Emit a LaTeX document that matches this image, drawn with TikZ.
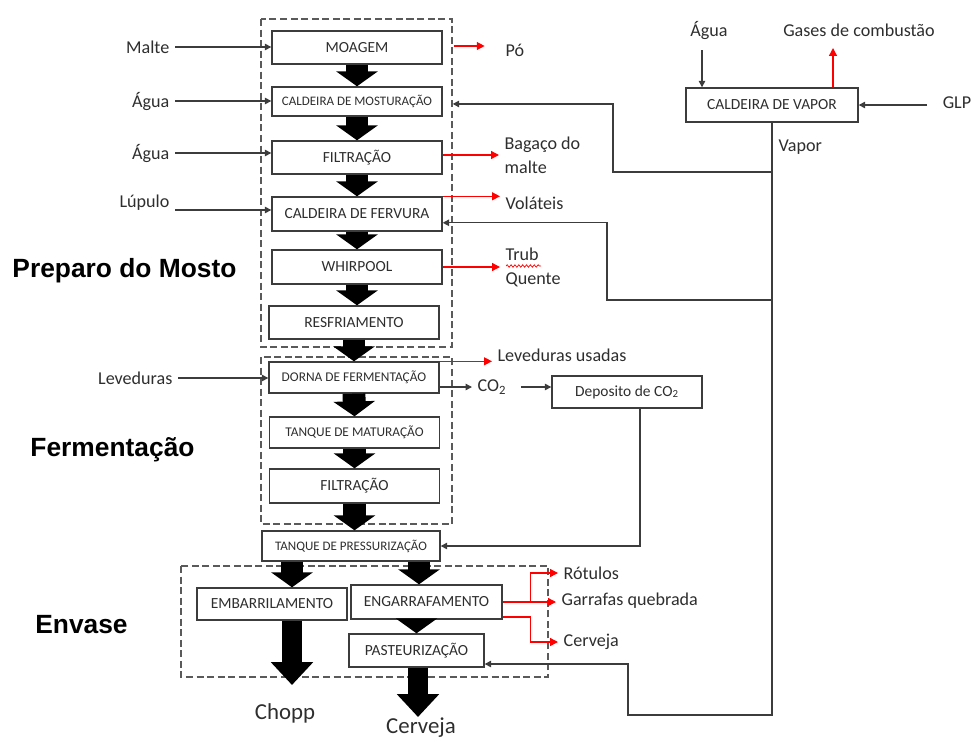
\documentclass[tikz,border=0pt]{standalone}
\usepackage{fontspec}
\setmainfont{Carlito}
\setsansfont{Liberation Sans}
\usetikzlibrary{arrows.meta,decorations.pathmorphing}

\definecolor{linegray}{HTML}{3C3C3C}
\definecolor{dashgray}{HTML}{5A5A5A}
\definecolor{txtgray}{HTML}{2E2E2E}

\tikzset{
  proc/.style={draw=linegray, line width=0.8pt, minimum width=3.4cm, minimum height=0.66cm,
    inner sep=1pt, text=txtgray, font=\fontsize{8.8}{10}\selectfont},
  smallproc/.style={proc, font=\fontsize{7.6}{9}\selectfont},
  lbl/.style={inner sep=3pt, text=txtgray, font=\fontsize{10.3}{13.7}\selectfont},
  feed/.style={draw=linegray, line width=0.75pt, -{Triangle[length=3.6pt,width=3.6pt]}},
  waste/.style={draw=red, line width=0.75pt, -{Triangle[length=4.5pt,width=4.5pt]}},
  fatarrow/.style={line width=13pt, -{Triangle[length=8.5pt,width=23.3pt]}},
  longarrow/.style={line width=11.4pt, -{Triangle[length=13pt,width=23.3pt]}},
  stage/.style={draw=dashgray, line width=1pt, dash pattern=on 4pt off 2pt},
  stagetitle/.style={font=\sffamily\bfseries\fontsize{15}{18}\selectfont}
}

\begin{document}
\begin{tikzpicture}[x=0.02cm, y=-0.02cm]
  \useasboundingbox (0,0) rectangle (974,738);

  % dashed stage frames
  \draw[stage] (261,19) rectangle (452,347);
  \draw[stage] (261,357) rectangle (452,524);
  \draw[stage] (181,566) rectangle (548,677);

  % stage titles
  \node[stagetitle] (preparo) at (124.5,271) {Preparo do Mosto};
  \node[stagetitle] (ferment) at (112.5,450) {Fermentação};
  \node[stagetitle] (envase) at (81.5,625) {Envase};

  % process boxes
  \node[proc] (moagem) at (357,47.5) {MOAGEM};
  \node[smallproc, font=\fontsize{7.4}{9}\selectfont, minimum height=0.58cm] (mostur) at (357,101.5) {CALDEIRA DE MOSTURAÇÃO};
  \node[proc] (filtr1) at (357,157.5) {FILTRAÇÃO};
  \node[proc, minimum height=0.68cm] (fervura) at (357,214) {CALDEIRA DE FERVURA};
  \node[proc, minimum height=0.68cm] (whirpool) at (357,267) {WHIRPOOL};
  \node[proc] (resfr) at (354,322.5) {RESFRIAMENTO};
  \node[smallproc, minimum height=0.62cm] (dorna) at (354,377.5) {DORNA DE FERMENTAÇÃO};
  \node[smallproc, minimum height=0.62cm] (matur) at (354.5,432.5) {TANQUE DE MATURAÇÃO};
  \node[proc, minimum height=0.68cm] (filtr2) at (354.5,486) {FILTRAÇÃO};
  \node[smallproc, font=\fontsize{7.4}{9}\selectfont, minimum width=3.56cm, minimum height=0.6cm] (pressur) at (351,546) {TANQUE DE PRESSURIZAÇÃO};
  \node[proc, minimum width=3.0cm, minimum height=0.64cm] (embarr) at (272,604) {EMBARRILAMENTO};
  \node[proc, minimum width=3.02cm, minimum height=0.68cm] (engarr) at (426.5,602) {ENGARRAFAMENTO};
  \node[proc, minimum width=2.7cm] (pasteur) at (416.5,650.5) {PASTEURIZAÇÃO};
  \node[proc, minimum width=3.44cm, minimum height=0.68cm] (cvapor) at (772,105) {CALDEIRA DE VAPOR};
  \node[proc, minimum width=3.0cm, minimum height=0.64cm] (deposito) at (627,392) {Deposito de CO\textsubscript{2}};

  % main flow
  \draw[fatarrow] (moagem.south) -- (mostur.north);
  \draw[fatarrow] (mostur.south) -- (filtr1.north);
  \draw[fatarrow] (filtr1.south) -- (fervura.north);
  \draw[fatarrow] (fervura.south) -- (whirpool.north);
  \draw[fatarrow] (whirpool.south) -- (whirpool.south |- resfr.north);
  \draw[fatarrow] (resfr.south) -- (dorna.north);
  \draw[fatarrow] (dorna.south) -- (matur.north);
  \draw[fatarrow] (matur.south) -- (filtr2.north);
  \draw[fatarrow] (filtr2.south) -- (filtr2.south |- pressur.north);
  \coordinate (barril) at (292,0);
  \coordinate (garrafa) at (419,0);
  \draw[fatarrow] (pressur.south -| barril) -- (embarr.north -| barril);
  \draw[fatarrow] (pressur.south -| garrafa) -- (engarr.north -| garrafa);
  \draw[fatarrow] (engarr.south -| pasteur.north) -- (pasteur.north);

  % products
  \node[lbl, font=\fontsize{13}{15}\selectfont] (chopp) at (285,713) {Chopp};
  \node[lbl, font=\fontsize{13}{15}\selectfont] (cerveja) at (421,728) {Cerveja};
  \coordinate (choppTip) at (292,685);
  \coordinate (cervTip) at (418,717);
  \draw[longarrow] (embarr.south -| choppTip) -- (choppTip);
  \draw[longarrow] (pasteur.south -| cervTip) -- (cervTip);

  % inputs on the left
  \node[lbl, anchor=east] (malte) at (175,47) {Malte};
  \node[lbl, anchor=east] (agua1) at (175,101) {Água};
  \node[lbl, anchor=east] (agua2) at (175,153) {Água};
  \node[lbl, anchor=east] (lupulo) at (175,203) {Lúpulo};
  \node[lbl, anchor=east] (leved) at (178,378) {Leveduras};
  \coordinate (lupin) at (175,210);
  \draw[feed] (malte.east) -- (malte.east -| moagem.west);
  \draw[feed] (agua1.east) -- (agua1.east -| mostur.west);
  \draw[feed] (agua2.east) -- (agua2.east -| filtr1.west);
  \draw[feed] (lupin) -- (lupin -| fervura.west);
  \draw[feed] (leved.east) -- (leved.east -| dorna.west);

  % residues on the right
  \node[lbl, anchor=west] (po) at (500,50) {Pó};
  \node[lbl, anchor=west, align=left] (bagaco) at (499,155) {Bagaço do\\malte};
  \node[lbl, anchor=west] (volateis) at (500,203) {Voláteis};
  \node[lbl, anchor=west, align=left] (trub) at (500,267) {Trub\\Quente};
  \node[lbl, anchor=west] (levus) at (492,355) {Leveduras usadas};
  \draw[waste] (moagem.east) ++(11,-1.5) -- ++(31,0);
  \draw[waste] (filtr1.east |- bagaco.west) -- (bagaco.west);
  \draw[waste] (fervura.north east) -- (fervura.north east -| volateis.west);
  \draw[waste] (whirpool.east |- trub.west) -- (trub.west);
  \draw[waste] (dorna.north east) -- (dorna.north east -| levus.west);
  \draw[red, line width=0.4pt, decorate, decoration={snake, amplitude=0.7pt, segment length=2.2pt}]
    (506,266) -- (541,266);

  % CO2
  \node[lbl, anchor=west] (co2) at (472,387) {CO\textsubscript{2}};
  \draw[feed] (dorna.east |- co2.west) -- (co2.west);
  \draw[feed] ([xshift=5pt]co2.east) -- (co2.east -| deposito.west);
  \draw[feed] ([xshift=7.4pt]deposito.south) |- (pressur.east);

  % bottling residues
  \node[lbl, anchor=west] (rotulos) at (558,573) {Rótulos};
  \node[lbl, anchor=west] (garrafas) at (556,601) {Garrafas quebrada};
  \node[lbl, anchor=west] (cerv2) at (558,642) {Cerveja};
  \draw[waste] (engarr.east) -- ++(28,0) |- (rotulos.west);
  \draw[waste] (engarr.east) -- (engarr.east -| garrafas.west);
  \draw[waste] ([yshift=-8.5pt]engarr.east) -- ++(28,0) |- (cerv2.west);

  % steam boiler
  \node[lbl] (agua3) at (709,30) {Água};
  \node[lbl] (gases) at (859,30) {Gases de combustão};
  \node[lbl] (glp) at (957,103) {GLP};
  \node[lbl, anchor=west] (vapor) at (773,147) {Vapor};
  \coordinate (aguaIn) at (702,50);
  \coordinate (gasTip) at (833,48);
  \coordinate (glpIn) at (927,105);
  \draw[feed] (aguaIn) -- (cvapor.north -| aguaIn);
  \draw[waste] (cvapor.north -| gasTip) -- (gasTip);
  \draw[feed] (glpIn) -- (cvapor.east |- glpIn);

  % steam distribution
  \coordinate (s1) at (613,172);
  \coordinate (s2) at (607,300);
  \coordinate (s3) at (628,664);
  \coordinate (vbot) at (772,715);
  \draw[feed] (cvapor.south |- s1) -- (s1) |- ([xshift=5.7pt,yshift=-1.4pt]mostur.east);
  \draw[feed] (cvapor.south |- s2) -- (s2) |- ([yshift=-5pt]fervura.east);
  \draw[feed] (cvapor.south) -- (vbot) -| (s3) -- (pasteur.east |- s3);

\end{tikzpicture}
\end{document}
